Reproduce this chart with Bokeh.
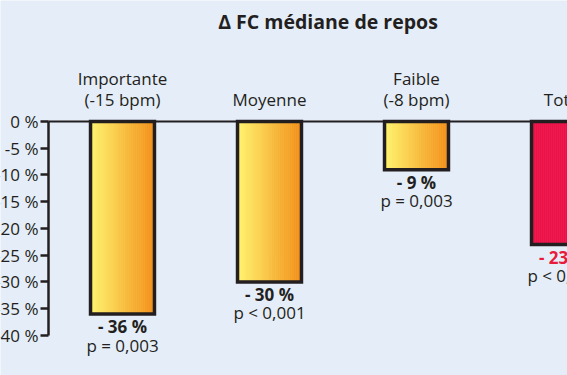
from bokeh.plotting import figure
from bokeh.models import Range1d, FixedTicker, Label
from bokeh.core.properties import value
from bokeh.embed import file_html
from bokeh.resources import INLINE

# ---- data ----
categories = ["Importante", "Moyenne", "Faible", "Total"]
bpm_labels = ["(-15 bpm)", "", "(-8 bpm)", ""]
changes = [-36, -30, -9, -23]
value_labels = ["- 36 %", "- 30 %", "- 9 %", "- 23 %"]
p_labels = ["p = 0,003", "p < 0,001", "p = 0,003", "p < 0,001"]
y_ticks = [0, -5, -10, -15, -20, -25, -30, -35, -40]
y_tick_labels = ["0 %", "-5 %", "-10 %", "-15 %", "-20 %", "-25 %", "-30 %", "-35 %", "-40 %"]
title_text = "\u0394 FC m\u00e9diane de repos"

# ---- styling ----
BG = "#e5edf8"
INK = "#231f20"
FONT = "Open Sans"
W, H = 567, 375
BAR_W = 0.435
N_SLICES = 32
yellow_grad = ((255, 243, 108), (243, 146, 26))
red_grad = ((236, 18, 72), (244, 90, 112))

x_range = Range1d(-0.8299, 3.0272)
y_range = Range1d(-47.477, 22.617)

p = figure(width=W, height=H, x_range=x_range, y_range=y_range,
           output_backend="svg", toolbar_location=None,
           min_border=0, min_border_left=0, min_border_right=0,
           min_border_top=0, min_border_bottom=0)
p.background_fill_color = BG
p.border_fill_color = BG
p.outline_line_color = None
p.xgrid.visible = False
p.ygrid.visible = False
p.xaxis.visible = False

axis_x = -0.5034
ya = p.yaxis[0]
ya.fixed_location = axis_x
ya.bounds = (-40, 0)
ya.ticker = FixedTicker(ticks=y_ticks)
ya.major_label_overrides = {t: l for t, l in zip(y_ticks, y_tick_labels)}
ya.major_label_text_font = FONT
ya.major_label_text_font_size = "17px"
ya.major_label_text_color = INK
ya.major_label_standoff = 2
ya.major_tick_out = 8
ya.major_tick_in = 0
ya.minor_tick_out = 0
ya.minor_tick_in = 0
ya.axis_line_width = 2.5
ya.axis_line_color = INK
ya.major_tick_line_width = 2.5
ya.major_tick_line_color = INK


def lerp(c0, c1, t):
    return "#%02x%02x%02x" % tuple(int(round(a + (b - a) * t)) for a, b in zip(c0, c1))


# gradient bars built from thin slices
lefts, rights, tops, bottoms, colors = [], [], [], [], []
for i, v in enumerate(changes):
    grad = red_grad if categories[i] == "Total" else yellow_grad
    x0 = i - BAR_W / 2
    dw = BAR_W / N_SLICES
    for j in range(N_SLICES):
        t = j / (N_SLICES - 1)
        if categories[i] == "Total":
            t = max(0.0, (t - 0.7) / 0.3)
        lefts.append(x0 + j * dw)
        rights.append(x0 + (j + 1) * dw)
        tops.append(0)
        bottoms.append(v)
        colors.append(lerp(grad[0], grad[1], t))
p.quad(left=lefts, right=rights, top=tops, bottom=bottoms,
       fill_color=colors, line_color=colors, line_width=0.6)

xs = list(range(len(categories)))
p.quad(left=[x - BAR_W / 2 for x in xs], right=[x + BAR_W / 2 for x in xs],
       top=[0] * len(xs), bottom=changes,
       fill_color=None, line_color=INK, line_width=3.5, line_join="miter")

# zero line
p.segment(x0=[axis_x], y0=[0], x1=[x_range.end], y1=[0], line_color=INK, line_width=2)

# category labels
upper = [c if b else "" for c, b in zip(categories, bpm_labels)]
lower = [b if b else c for c, b in zip(categories, bpm_labels)]
p.text(x=xs, y=[0] * len(xs), text=upper, text_align="center", text_baseline="alphabetic",
       y_offset=-43, text_font=value(FONT), text_font_size="17px", text_color=INK)
p.text(x=xs, y=[0] * len(xs), text=lower, text_align="center", text_baseline="alphabetic",
       y_offset=-22, text_font=value(FONT), text_font_size="17px", text_color=INK)

# value labels under bars
val_colors = ["#e81b3c" if c == "Total" else INK for c in categories]
p.text(x=xs, y=changes, text=value_labels, text_align="center", text_baseline="alphabetic",
       y_offset=12.5, text_font=value(FONT), text_font_size="17px", text_font_style="bold",
       text_color=val_colors)
p.text(x=xs, y=changes, text=p_labels, text_align="center", text_baseline="alphabetic",
       y_offset=31, text_font=value(FONT), text_font_size="17px", text_color=INK)

# title
p.add_layout(Label(x=327.5, y=H - 21, x_units="screen", y_units="screen", text=title_text,
                   text_align="center", text_baseline="alphabetic", text_font=FONT,
                   text_font_size="19.5px", text_font_style="bold", text_color=INK))

open("out.html", "w").write(file_html(p, INLINE))
